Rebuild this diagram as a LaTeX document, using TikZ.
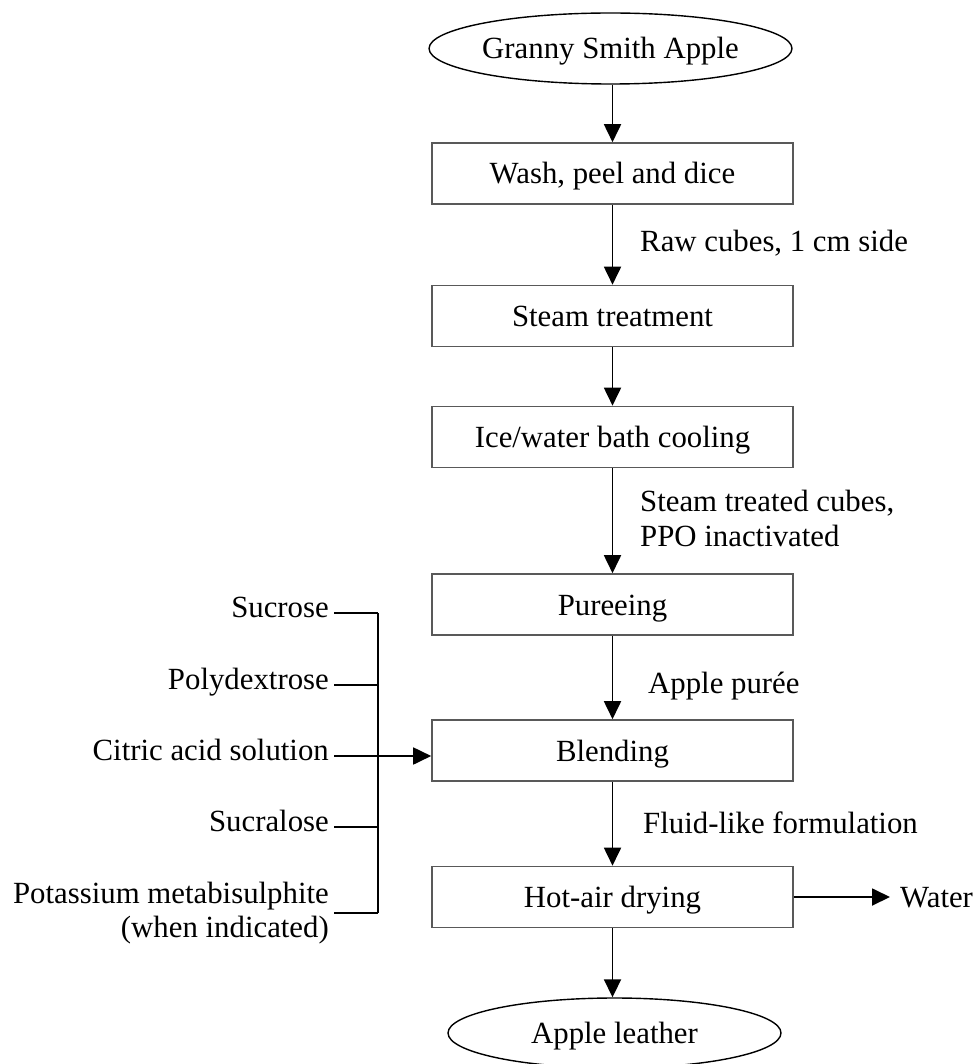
\documentclass[tikz,border=0pt]{standalone}
\usepackage{fontspec}
\setmainfont{Liberation Serif}
\usetikzlibrary{shapes.geometric,arrows.meta}
\begin{document}
\begin{tikzpicture}[x=1pt,y=-1pt,
  every node/.style={font=\fontsize{30.8}{35}\selectfont},
  procbox/.style={draw=black!65, line width=1.6pt, rectangle, minimum width=361pt, minimum height=61pt, inner sep=0pt, text height=21pt, text depth=0pt},
  endpt/.style={draw=black, line width=1.4pt, ellipse, inner sep=0pt, text height=21pt, text depth=0pt},
  arr/.style={line width=1.8pt, -{Triangle[length=18pt,width=17pt]}},
  linkline/.style={line width=1.8pt},
  lbl/.style={inner sep=0pt, anchor=base west},
  ing/.style={inner sep=0pt, anchor=base east}
]
\useasboundingbox (0,0) rectangle (975,1064);

% main flow
\node[endpt, minimum width=355pt, minimum height=71pt] (gs) at (610.5,48.5) {Granny Smith Apple};
\node[procbox] (wash) at (612.5,173.5) {Wash, peel and dice};
\node[procbox] (steam) at (612.5,316) {Steam treatment};
\node[procbox] (ice) at (612.5,437) {Ice/water bath cooling};
\node[procbox] (puree) at (612.5,604.5) {Pureeing};
\node[procbox] (blend) at (612.5,750.5) {Blending};
\node[procbox] (dry) at (612.5,897) {Hot-air drying};
\node[endpt, minimum width=333pt, minimum height=70pt] (leather) at (614.5,1033) {Apple leather};

\draw[arr] (wash.north |- gs.south) -- (wash.north);
\draw[arr] (wash.south) -- (steam.north);
\draw[arr] (steam.south) -- (ice.north);
\draw[arr] (ice.south) -- (puree.north);
\draw[arr] (puree.south) -- (blend.north);
\draw[arr] (blend.south) -- (dry.north);
\draw[arr] (dry.south) -- (dry.south |- leather.north);

% stream labels
\node[lbl] (l1) at (640,252) {Raw cubes, 1 cm side};
\node[lbl] (l2a) at (640,511) {Steam treated cubes,};
\node[lbl] (l2b) at (640,546) {PPO inactivated};
\node[lbl] (l3) at (648,693) {Apple purée};
\node[lbl] (l4) at (643,833) {Fluid-like formulation};

% water out
\node[lbl, inner xsep=10pt] (water) at (890,907) {Water};
\draw[arr] (dry.east) -- (water.west |- dry.east);

% ingredients
\node[ing] (suc) at (329,617) {Sucrose};
\node[ing] (poly) at (329,689) {Polydextrose};
\node[ing] (cit) at (329,760) {Citric acid solution};
\node[ing] (sucra) at (329,831) {Sucralose};
\node[ing] (pms) at (329,903) {Potassium metabisulphite};
\node[ing] (wi) at (329,937) {(when indicated)};

\coordinate (b1) at (378,613);
\coordinate (b2) at (378,685);
\coordinate (b3) at (378,756);
\coordinate (b4) at (378,827);
\coordinate (b5) at (378,913);

\draw[linkline] ([shift={(5,-4)}]suc.base east) -- (b1);
\draw[linkline] ([shift={(5,-4)}]poly.base east) -- (b2);
\draw[linkline] ([shift={(5,-4)}]sucra.base east) -- (b4);
\draw[linkline] ([shift={(5,10)}]pms.base east) -- (b5);
\draw[linkline] (b1) -- (b5);
\draw[arr] ([shift={(5,-4)}]cit.base east) -- (blend.west |- b3);
\end{tikzpicture}
\end{document}
